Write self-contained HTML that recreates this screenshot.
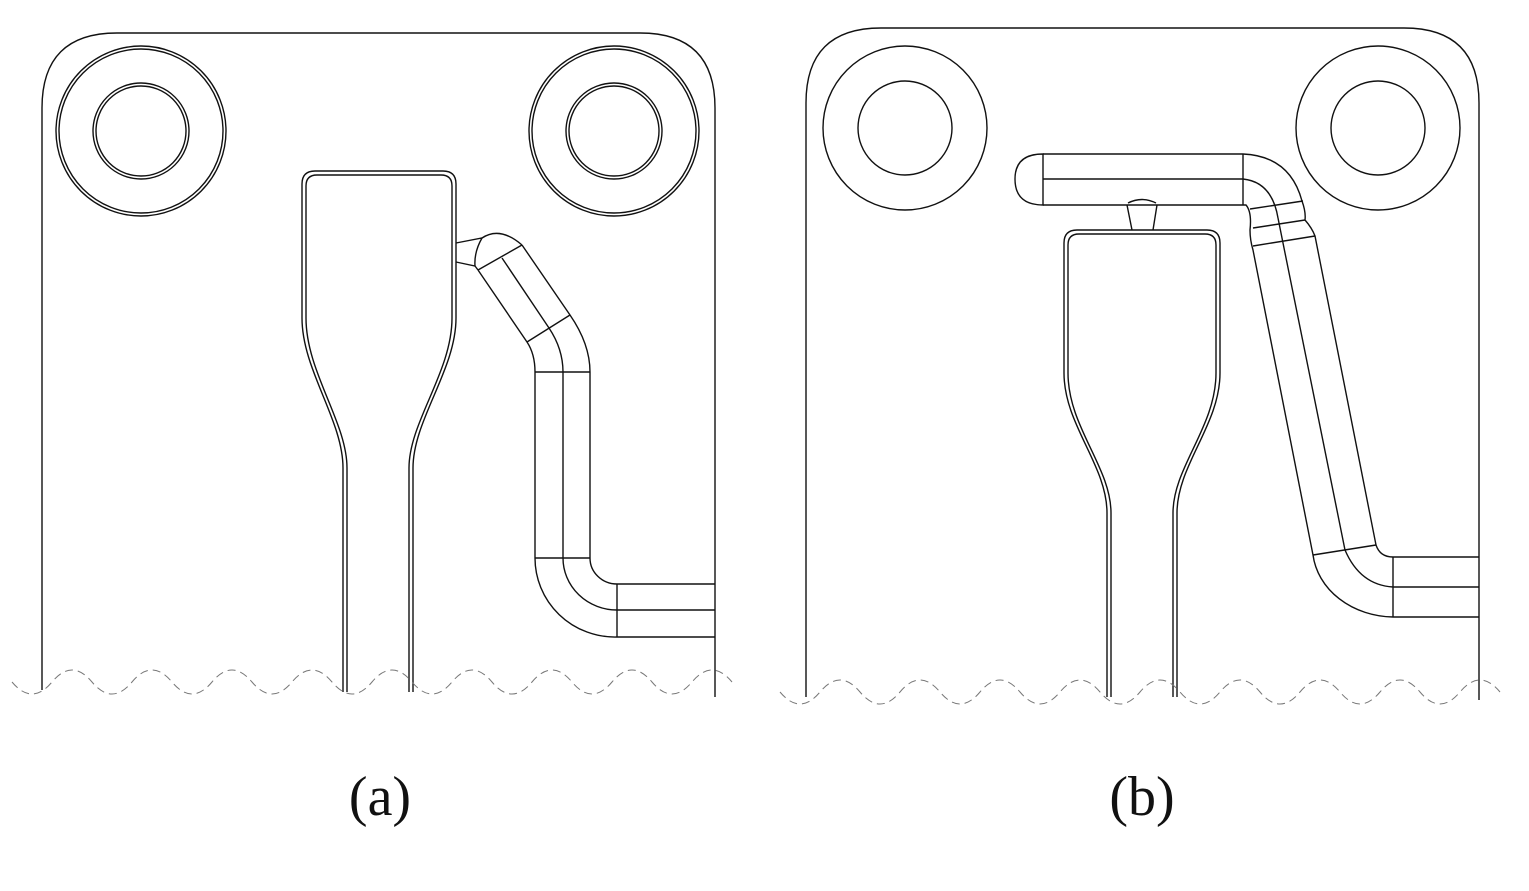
<!DOCTYPE html>
<html><head><meta charset="utf-8"><style>
html,body{margin:0;padding:0;background:#fff;}
svg{display:block;}
</style></head><body>
<svg width="1529" height="891" viewBox="0 0 1529 891" xmlns="http://www.w3.org/2000/svg">
<g fill="none" stroke="#111" stroke-width="1.4">
<path d="M42,690 L42,108 Q42,33 117,33 L640,33 Q715,33 715,108 L715,697"/>
<circle cx="141" cy="131" r="85"/><circle cx="141" cy="131" r="82"/>
<circle cx="141" cy="131" r="48"/><circle cx="141" cy="131" r="45"/>
<circle cx="614" cy="131" r="85"/><circle cx="614" cy="131" r="82"/>
<circle cx="614" cy="131" r="48"/><circle cx="614" cy="131" r="45"/>
<path d="M343,692 L343,468 C343,420 302,370 302,318 L302,184 Q302,171 315,171 L443,171 Q456,171 456,184 L456,318 C456,370 413,420 413,468 L413,692"/>
<path d="M347,692 L347,468 C347,422 306,372 306,318 L306,186 Q306,175 317,175 L441,175 Q452,175 452,186 L452,318 C452,372 409,422 409,468 L409,692"/>
<path d="M456,243 L482,238 Q474,252 475,266 L456,262"/>
<path d="M482,238 Q500,226 522,245"/>
<path d="M475,266 L478,270"/>
<path d="M478,270 L527,342 Q535,354 535,372 L535,558 A80,79 0 0 0 617,637 L715,637"/>
<path d="M502,258 L549,328 Q563,349 563,372 L563,558 A54,52 0 0 0 617,610 L715,610"/>
<path d="M522,245 L570,315 Q590,344 590,372 L590,558 A27,26 0 0 0 617,584 L715,584"/>
<path d="M478,270 L522,245 M527,342 L570,315 M535,372 L590,372 M535,558 L590,558 M617,584 L617,637"/>
<path d="M806,697 L806,103 Q806,28 881,28 L1404,28 Q1479,28 1479,103 L1479,700"/>
<circle cx="905" cy="128" r="82"/><circle cx="905" cy="128" r="47"/>
<circle cx="1378" cy="128" r="82"/><circle cx="1378" cy="128" r="47"/>
<path d="M1043,154 L1243,154 Q1290,156 1302,201"/>
<path d="M1043,179 L1243,179 Q1272,182 1278,218"/>
<path d="M1043,205 L1246,205 Q1252,212 1250,230 Q1250,240 1253,250 L1313,555 A82,70 0 0 0 1393,617 L1479,617"/>
<path d="M1043,154 Q1015,154 1015,179 Q1015,205 1043,205 Z"/>
<path d="M1243,154 L1243,205"/>
<path d="M1250,209 L1303,201 M1253,228 L1305,220 M1253,246 L1315,236"/>
<path d="M1302,201 Q1306,212 1305,220 Q1312,228 1315,236 L1376,545 Q1380,557 1393,557 L1479,557"/>
<path d="M1278,218 L1283,243 L1345,550 Q1360,585 1393,587 L1479,587"/>
<path d="M1313,555 L1376,545 M1393,557 L1393,617"/>
<path d="M1127,205 L1132,230 M1157,205 L1153,230 M1128,203 Q1142,196 1156,203"/>
<path d="M1107,697 L1107,513 C1107,465 1064,425 1064,373 L1064,243 Q1064,230 1077,230 L1207,230 Q1220,230 1220,243 L1220,373 C1220,425 1177,465 1177,513 L1177,697"/>
<path d="M1111,697 L1111,513 C1111,467 1068,427 1068,373 L1068,245 Q1068,234 1079,234 L1205,234 Q1216,234 1216,245 L1216,373 C1216,427 1173,467 1173,513 L1173,697"/>
</g>
<g fill="none" stroke="#777" stroke-width="1" stroke-dasharray="8,5">
<path d="M12,682 q20,24 40,0 t40,0 t40,0 t40,0 t40,0 t40,0 t40,0 t40,0 t40,0 t40,0 t40,0 t40,0 t40,0 t40,0 t40,0 t40,0 t40,0 t40,0"/>
<path d="M780,692 q20,24 40,0 t40,0 t40,0 t40,0 t40,0 t40,0 t40,0 t40,0 t40,0 t40,0 t40,0 t40,0 t40,0 t40,0 t40,0 t40,0 t40,0 t40,0"/>
</g>
<text x="380" y="815" font-family="Liberation Serif, Times New Roman, serif" font-size="56" text-anchor="middle" fill="#111">(a)</text>
<text x="1142" y="815" font-family="Liberation Serif, Times New Roman, serif" font-size="56" text-anchor="middle" fill="#111">(b)</text>
</svg>
</body></html>
